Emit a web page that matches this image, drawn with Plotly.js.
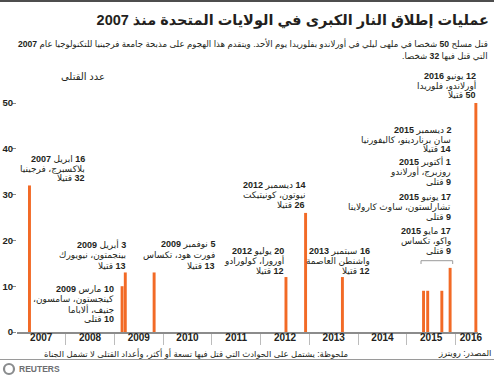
<!DOCTYPE html>
<html>
<head>
<meta charset="utf-8">
<script src="https://cdn.plot.ly/plotly-3.0.1.min.js"></script>
<style>html,body{margin:0;padding:0;background:#fff;}#chart{width:494px;height:378px;}</style>
</head>
<body>
<div id="chart"></div>
<script>
// ---- data ----
const eventDates = ['2007-04-16','2009-03-10','2009-04-03','2009-11-05','2012-07-20','2012-12-14','2013-09-16','2015-05-17','2015-06-17','2015-10-01','2015-12-02','2016-06-12'];
const deaths = [32, 10, 13, 13, 12, 26, 12, 9, 9, 9, 14, 50];
const yearLabels = ['2007','2008','2009','2010','2011','2012','2013','2014','2015','2016'];
const yearLabelPos = ['2007-07-02','2008-07-02','2009-07-02','2010-07-02','2011-07-02','2012-07-02','2013-07-02','2014-07-02','2015-07-02','2016-04-25'];
const yearStarts = ['2008-01-01','2009-01-01','2010-01-01','2011-01-01','2012-01-01','2013-01-01','2014-01-01','2015-01-01','2016-01-01'];
const yTicks = [0, 10, 20, 30, 40, 50];

const titleText = 'عمليات إطلاق النار الكبرى في الولايات المتحدة منذ <b>2007</b>';
const subtitleLines = [
  'قتل مسلح <b>50</b> شخصا في ملهى ليلي في أورلاندو بفلوريدا يوم الأحد. ويتقدم هذا الهجوم على مذبحة جامعة فرجينيا للتكنولوجيا عام <b>2007</b>',
  'التي قتل فيها <b>32</b> شخصا.'
];
const yTitle = 'عدد القتلى';
const eventLabels = [
  ['<b>16</b> ابريل <b>2007</b>', 'بلاكسبرج، فرجينيا', '<b>32</b> قتيلا'],
  ['<b>10</b> مارس <b>2009</b>', 'كينجستون، سامسون،', 'جنيف، ألاباما', '<b>10</b> قتلى'],
  ['<b>3</b> أبريل <b>2009</b>', 'بينجمتون، نيويورك', '<b>13</b> قتيلا'],
  ['<b>5</b> نوفمبر <b>2009</b>', 'فورت هود، تكساس', '<b>13</b> قتيلا'],
  ['<b>20</b> يوليو <b>2012</b>', 'أورورا، كولورادو', '<b>12</b> قتيلا'],
  ['<b>14</b> ديسمبر <b>2012</b>', 'نيوتون، كونيتيكت', '<b>26</b> قتيلا'],
  ['<b>16</b> سبتمبر <b>2013</b>', 'واشنطن العاصمة', '<b>12</b> قتيلا'],
  ['<b>17</b> مايو <b>2015</b>', 'واكو، تكساس', '<b>9</b> قتلى'],
  ['<b>17</b> يونيو <b>2015</b>', 'تشارلستون، ساوث كارولاينا', '<b>9</b> قتلى'],
  ['<b>1</b> أكتوبر <b>2015</b>', 'روزبرج، أورلاندو', '<b>9</b> قتلى'],
  ['<b>2</b> ديسمبر <b>2015</b>', 'سان برناردينو، كاليفورنيا', '<b>14</b> قتيلا'],
  ['<b>12</b> يونيو <b>2016</b>', 'أورلاندو، فلوريدا', '<b>50</b> قتيلا']
];
const noteText = 'ملحوظة: يشتمل على الحوادث التي قتل فيها تسعة أو أكثر، وأعداد القتلى لا تشمل الجناة';
const sourceText = 'المصدر: رويترز';

// ---- layout helpers ----
const L = 17, R = 478, T = 103, B = 332;
const W = 494, H = 378;
const PX = x => (x - L) / (R - L);
const PY = y => (B - y) / (B - T);
const rtl = s => '\u202B' + s + '\u202C';
const FONT = 'Liberation Sans, Arial, DejaVu Sans, sans-serif';
const DARK = '#231f20';

// label block placement: [right edge px, first line center px, line spacing px]
const labelPlace = [
  [87, 159, 9.7], [116, 289.3, 10], [127.7, 244.3, 10.8], [216.7, 244.3, 10.8],
  [286.3, 251, 9.9], [306.7, 185, 10], [371.7, 251, 9.9],
  [453.3, 231, 10], [453.3, 196.7, 10], [453, 161, 10.6], [453.3, 130, 9.7],
  [478.3, 76, 9.5]
];

const annotations = [];
eventLabels.forEach((lines, i) => {
  const [xr, y0, sp] = labelPlace[i];
  lines.forEach((ln, j) => {
    annotations.push({
      xref: 'paper', yref: 'paper', x: PX(xr), y: PY(y0 + j * sp),
      xanchor: 'right', yanchor: 'middle', showarrow: false, align: 'right',
      text: rtl(ln), font: {family: FONT, size: 9, color: DARK}
    });
  });
});
subtitleLines.forEach((ln, j) => {
  annotations.push({
    xref: 'paper', yref: 'paper', x: PX(490), y: PY(43.5 + j * 12.5),
    xanchor: 'right', yanchor: 'middle', showarrow: false, align: 'right',
    text: rtl(ln), font: {family: FONT, size: 8.6, color: DARK}
  });
});
annotations.push({
  xref: 'paper', yref: 'paper', x: PX(83), y: PY(76), xanchor: 'center', yanchor: 'middle',
  showarrow: false, text: rtl(yTitle), font: {family: FONT, size: 10, color: DARK}
});
annotations.push({
  xref: 'paper', yref: 'paper', x: PX(350), y: PY(353), xanchor: 'right', yanchor: 'middle',
  showarrow: false, text: rtl(noteText), font: {family: FONT, size: 8.5, color: DARK}
});
annotations.push({
  xref: 'paper', yref: 'paper', x: PX(492.5), y: PY(353), xanchor: 'right', yanchor: 'middle',
  showarrow: false, text: rtl(sourceText), font: {family: FONT, size: 8.5, color: DARK}
});
annotations.push({
  xref: 'paper', yref: 'paper', x: PX(17), y: PY(369), xanchor: 'left', yanchor: 'middle',
  showarrow: false, text: '<b>REUTERS</b>', font: {family: FONT, size: 8.5, color: '#6d6e71'}
});

const shapes = [
  {type: 'line', xref: 'paper', yref: 'paper', x0: PX(0), x1: PX(494), y0: PY(1), y1: PY(1),
   line: {color: '#4d4d4d', width: 2}},
  {type: 'line', xref: 'paper', yref: 'paper', x0: PX(0), x1: PX(494), y0: PY(359.5), y1: PY(359.5),
   line: {color: '#9a9a9a', width: 1}},
  {type: 'path', xref: 'paper', yref: 'paper',
   path: `M ${PX(421)} ${PY(264)} L ${PX(421)} ${PY(260.7)} L ${PX(452.7)} ${PY(260.7)} L ${PX(452.7)} ${PY(264)}`,
   line: {color: '#9a9a9a', width: 1}},
  {type: 'circle', xref: 'paper', yref: 'paper', x0: PX(4), x1: PX(14), y0: PY(364), y1: PY(374),
   line: {color: '#8a8c8e', width: 2.2}}
];

const barWidth = 22 * 86400000;
const trace = {
  type: 'bar', x: eventDates, y: deaths,
  width: eventDates.map(() => barWidth),
  offset: eventDates.map(() => -barWidth),
  marker: {color: '#f26a26', line: {width: 0}},
  hoverinfo: 'x+y'
};

const layout = {
  width: W, height: H,
  margin: {l: L, r: W - R, t: T, b: H - B, pad: 0},
  paper_bgcolor: '#ffffff', plot_bgcolor: '#ffffff',
  showlegend: false,
  title: {
    text: rtl(titleText), xref: 'container', yref: 'container',
    x: 489 / W, xanchor: 'right', y: 1 - 20 / H, yanchor: 'middle',
    font: {family: FONT, size: 14.5, color: DARK, weight: 'bold'}
  },
  xaxis: {
    type: 'date', range: ['2007-01-01 12:00', '2016-06-17'],
    tickmode: 'array', tickvals: yearLabelPos, ticktext: yearLabels,
    ticks: '', showgrid: false, zeroline: false,
    showline: true, linecolor: '#8c8c8c', linewidth: 1.5,
    tickfont: {family: FONT, size: 10, color: DARK, weight: 'bold'},
    ticklabelstandoff: -5,
    minor: {tickmode: 'array', tickvals: yearStarts, ticks: 'outside', ticklen: 11, tickcolor: '#bcbcbc', tickwidth: 1, showgrid: false},
    fixedrange: true
  },
  yaxis: {
    range: [0, 50], tickmode: 'array', tickvals: yTicks,
    ticks: 'outside', ticklen: 4, tickcolor: '#8c8c8c', tickwidth: 1,
    showgrid: false, zeroline: false, showline: false,
    tickfont: {family: FONT, size: 9.5, color: DARK, weight: 'bold'},
    ticklabelstandoff: -3,
    fixedrange: true
  },
  annotations: annotations,
  shapes: shapes
};

Plotly.newPlot('chart', [trace], layout, {displayModeBar: false, staticPlot: true});
</script>
</body>
</html>
